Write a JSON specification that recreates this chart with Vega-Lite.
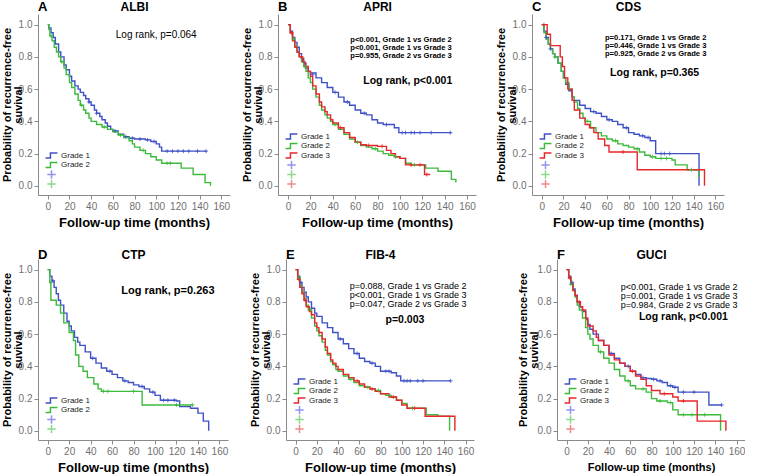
{
"$schema":"https://vega.github.io/schema/vega-lite/v6.json",
"padding":{"left":1,"top":0,"right":0,"bottom":0},
"config":{"font":"Liberation Sans","view":{"stroke":null},
"axis":{"grid":false,"domainColor":"#8a8a8a","tickColor":"#8a8a8a","labelColor":"#707070","labelFontSize":10,"titleColor":"#000","titleFontWeight":"bold","tickSize":4,"labelPadding":2,"labelOverlap":false,"labelFlush":false},
"axisX":{"titleFontSize":13,"titlePadding":5},
"axisY":{"titleFontSize":11,"titlePadding":-5,"titleLineHeight":11}},
"datasets":{
"km":[
{"p":"A","g":"Grade 1","t":0,"s":1},{"p":"A","g":"Grade 1","t":1,"s":0.98},{"p":"A","g":"Grade 1","t":3,"s":0.95},{"p":"A","g":"Grade 1","t":5,"s":0.92},{"p":"A","g":"Grade 1","t":7,"s":0.88},{"p":"A","g":"Grade 1","t":10,"s":0.83},{"p":"A","g":"Grade 1","t":12,"s":0.8},{"p":"A","g":"Grade 1","t":15,"s":0.75},{"p":"A","g":"Grade 1","t":17,"s":0.72},{"p":"A","g":"Grade 1","t":20,"s":0.68},{"p":"A","g":"Grade 1","t":22,"s":0.65},{"p":"A","g":"Grade 1","t":25,"s":0.62},{"p":"A","g":"Grade 1","t":28,"s":0.6},{"p":"A","g":"Grade 1","t":30,"s":0.58},{"p":"A","g":"Grade 1","t":33,"s":0.56},{"p":"A","g":"Grade 1","t":35,"s":0.54},{"p":"A","g":"Grade 1","t":38,"s":0.52},{"p":"A","g":"Grade 1","t":40,"s":0.5},{"p":"A","g":"Grade 1","t":43,"s":0.47},{"p":"A","g":"Grade 1","t":45,"s":0.45},{"p":"A","g":"Grade 1","t":48,"s":0.43},{"p":"A","g":"Grade 1","t":50,"s":0.41},{"p":"A","g":"Grade 1","t":53,"s":0.39},{"p":"A","g":"Grade 1","t":55,"s":0.37},{"p":"A","g":"Grade 1","t":58,"s":0.35},{"p":"A","g":"Grade 1","t":60,"s":0.34},{"p":"A","g":"Grade 1","t":65,"s":0.32},{"p":"A","g":"Grade 1","t":70,"s":0.305},{"p":"A","g":"Grade 1","t":75,"s":0.295},{"p":"A","g":"Grade 1","t":80,"s":0.29},{"p":"A","g":"Grade 1","t":90,"s":0.285},{"p":"A","g":"Grade 1","t":95,"s":0.275},{"p":"A","g":"Grade 1","t":100,"s":0.26},{"p":"A","g":"Grade 1","t":103,"s":0.24},{"p":"A","g":"Grade 1","t":105,"s":0.215},{"p":"A","g":"Grade 1","t":146,"s":0.215},
{"p":"A","g":"Grade 2","t":0,"s":1},{"p":"A","g":"Grade 2","t":1,"s":0.97},{"p":"A","g":"Grade 2","t":2,"s":0.93},{"p":"A","g":"Grade 2","t":4,"s":0.9},{"p":"A","g":"Grade 2","t":6,"s":0.86},{"p":"A","g":"Grade 2","t":8,"s":0.83},{"p":"A","g":"Grade 2","t":10,"s":0.8},{"p":"A","g":"Grade 2","t":12,"s":0.77},{"p":"A","g":"Grade 2","t":15,"s":0.73},{"p":"A","g":"Grade 2","t":17,"s":0.69},{"p":"A","g":"Grade 2","t":20,"s":0.64},{"p":"A","g":"Grade 2","t":22,"s":0.61},{"p":"A","g":"Grade 2","t":25,"s":0.57},{"p":"A","g":"Grade 2","t":28,"s":0.53},{"p":"A","g":"Grade 2","t":30,"s":0.5},{"p":"A","g":"Grade 2","t":33,"s":0.47},{"p":"A","g":"Grade 2","t":35,"s":0.45},{"p":"A","g":"Grade 2","t":38,"s":0.42},{"p":"A","g":"Grade 2","t":40,"s":0.4},{"p":"A","g":"Grade 2","t":45,"s":0.38},{"p":"A","g":"Grade 2","t":50,"s":0.365},{"p":"A","g":"Grade 2","t":55,"s":0.35},{"p":"A","g":"Grade 2","t":60,"s":0.335},{"p":"A","g":"Grade 2","t":65,"s":0.315},{"p":"A","g":"Grade 2","t":70,"s":0.3},{"p":"A","g":"Grade 2","t":75,"s":0.28},{"p":"A","g":"Grade 2","t":78,"s":0.26},{"p":"A","g":"Grade 2","t":80,"s":0.24},{"p":"A","g":"Grade 2","t":85,"s":0.22},{"p":"A","g":"Grade 2","t":90,"s":0.2},{"p":"A","g":"Grade 2","t":95,"s":0.18},{"p":"A","g":"Grade 2","t":100,"s":0.16},{"p":"A","g":"Grade 2","t":105,"s":0.14},{"p":"A","g":"Grade 2","t":123,"s":0.11},{"p":"A","g":"Grade 2","t":134,"s":0.07},{"p":"A","g":"Grade 2","t":145,"s":0.02},{"p":"A","g":"Grade 2","t":150,"s":0.0},
{"p":"B","g":"Grade 1","t":0,"s":1},{"p":"B","g":"Grade 1","t":2,"s":0.96},{"p":"B","g":"Grade 1","t":4,"s":0.92},{"p":"B","g":"Grade 1","t":6,"s":0.89},{"p":"B","g":"Grade 1","t":8,"s":0.86},{"p":"B","g":"Grade 1","t":10,"s":0.82},{"p":"B","g":"Grade 1","t":12,"s":0.79},{"p":"B","g":"Grade 1","t":14,"s":0.76},{"p":"B","g":"Grade 1","t":16,"s":0.73},{"p":"B","g":"Grade 1","t":18,"s":0.71},{"p":"B","g":"Grade 1","t":20,"s":0.7},{"p":"B","g":"Grade 1","t":25,"s":0.67},{"p":"B","g":"Grade 1","t":30,"s":0.64},{"p":"B","g":"Grade 1","t":35,"s":0.61},{"p":"B","g":"Grade 1","t":40,"s":0.58},{"p":"B","g":"Grade 1","t":45,"s":0.55},{"p":"B","g":"Grade 1","t":50,"s":0.52},{"p":"B","g":"Grade 1","t":55,"s":0.5},{"p":"B","g":"Grade 1","t":60,"s":0.47},{"p":"B","g":"Grade 1","t":65,"s":0.45},{"p":"B","g":"Grade 1","t":70,"s":0.44},{"p":"B","g":"Grade 1","t":75,"s":0.41},{"p":"B","g":"Grade 1","t":80,"s":0.39},{"p":"B","g":"Grade 1","t":85,"s":0.38},{"p":"B","g":"Grade 1","t":95,"s":0.36},{"p":"B","g":"Grade 1","t":99,"s":0.33},{"p":"B","g":"Grade 1","t":146,"s":0.33},
{"p":"B","g":"Grade 2","t":0,"s":1},{"p":"B","g":"Grade 2","t":2,"s":0.95},{"p":"B","g":"Grade 2","t":4,"s":0.91},{"p":"B","g":"Grade 2","t":6,"s":0.87},{"p":"B","g":"Grade 2","t":8,"s":0.83},{"p":"B","g":"Grade 2","t":10,"s":0.8},{"p":"B","g":"Grade 2","t":12,"s":0.77},{"p":"B","g":"Grade 2","t":14,"s":0.74},{"p":"B","g":"Grade 2","t":16,"s":0.71},{"p":"B","g":"Grade 2","t":18,"s":0.67},{"p":"B","g":"Grade 2","t":20,"s":0.64},{"p":"B","g":"Grade 2","t":22,"s":0.6},{"p":"B","g":"Grade 2","t":25,"s":0.55},{"p":"B","g":"Grade 2","t":28,"s":0.5},{"p":"B","g":"Grade 2","t":30,"s":0.47},{"p":"B","g":"Grade 2","t":33,"s":0.44},{"p":"B","g":"Grade 2","t":35,"s":0.42},{"p":"B","g":"Grade 2","t":38,"s":0.4},{"p":"B","g":"Grade 2","t":40,"s":0.38},{"p":"B","g":"Grade 2","t":45,"s":0.35},{"p":"B","g":"Grade 2","t":50,"s":0.32},{"p":"B","g":"Grade 2","t":55,"s":0.29},{"p":"B","g":"Grade 2","t":60,"s":0.27},{"p":"B","g":"Grade 2","t":65,"s":0.25},{"p":"B","g":"Grade 2","t":70,"s":0.24},{"p":"B","g":"Grade 2","t":75,"s":0.23},{"p":"B","g":"Grade 2","t":80,"s":0.215},{"p":"B","g":"Grade 2","t":85,"s":0.2},{"p":"B","g":"Grade 2","t":90,"s":0.19},{"p":"B","g":"Grade 2","t":95,"s":0.18},{"p":"B","g":"Grade 2","t":100,"s":0.17},{"p":"B","g":"Grade 2","t":105,"s":0.14},{"p":"B","g":"Grade 2","t":110,"s":0.13},{"p":"B","g":"Grade 2","t":123,"s":0.11},{"p":"B","g":"Grade 2","t":134,"s":0.09},{"p":"B","g":"Grade 2","t":146,"s":0.04},{"p":"B","g":"Grade 2","t":150,"s":0.02},
{"p":"B","g":"Grade 3","t":0,"s":1},{"p":"B","g":"Grade 3","t":2,"s":0.95},{"p":"B","g":"Grade 3","t":4,"s":0.9},{"p":"B","g":"Grade 3","t":6,"s":0.86},{"p":"B","g":"Grade 3","t":8,"s":0.83},{"p":"B","g":"Grade 3","t":10,"s":0.8},{"p":"B","g":"Grade 3","t":13,"s":0.77},{"p":"B","g":"Grade 3","t":15,"s":0.74},{"p":"B","g":"Grade 3","t":18,"s":0.71},{"p":"B","g":"Grade 3","t":20,"s":0.68},{"p":"B","g":"Grade 3","t":22,"s":0.62},{"p":"B","g":"Grade 3","t":25,"s":0.57},{"p":"B","g":"Grade 3","t":28,"s":0.52},{"p":"B","g":"Grade 3","t":30,"s":0.49},{"p":"B","g":"Grade 3","t":33,"s":0.46},{"p":"B","g":"Grade 3","t":35,"s":0.44},{"p":"B","g":"Grade 3","t":38,"s":0.41},{"p":"B","g":"Grade 3","t":40,"s":0.39},{"p":"B","g":"Grade 3","t":45,"s":0.36},{"p":"B","g":"Grade 3","t":50,"s":0.33},{"p":"B","g":"Grade 3","t":55,"s":0.3},{"p":"B","g":"Grade 3","t":60,"s":0.27},{"p":"B","g":"Grade 3","t":65,"s":0.255},{"p":"B","g":"Grade 3","t":70,"s":0.25},{"p":"B","g":"Grade 3","t":80,"s":0.245},{"p":"B","g":"Grade 3","t":88,"s":0.22},{"p":"B","g":"Grade 3","t":92,"s":0.2},{"p":"B","g":"Grade 3","t":96,"s":0.18},{"p":"B","g":"Grade 3","t":100,"s":0.17},{"p":"B","g":"Grade 3","t":105,"s":0.13},{"p":"B","g":"Grade 3","t":120,"s":0.13},{"p":"B","g":"Grade 3","t":122,"s":0.07},{"p":"B","g":"Grade 3","t":127,"s":0.07},
{"p":"C","g":"Grade 1","t":0,"s":1},{"p":"C","g":"Grade 1","t":2,"s":0.96},{"p":"C","g":"Grade 1","t":4,"s":0.92},{"p":"C","g":"Grade 1","t":6,"s":0.88},{"p":"C","g":"Grade 1","t":8,"s":0.85},{"p":"C","g":"Grade 1","t":10,"s":0.82},{"p":"C","g":"Grade 1","t":12,"s":0.8},{"p":"C","g":"Grade 1","t":15,"s":0.76},{"p":"C","g":"Grade 1","t":18,"s":0.71},{"p":"C","g":"Grade 1","t":20,"s":0.67},{"p":"C","g":"Grade 1","t":22,"s":0.63},{"p":"C","g":"Grade 1","t":25,"s":0.59},{"p":"C","g":"Grade 1","t":28,"s":0.55},{"p":"C","g":"Grade 1","t":30,"s":0.53},{"p":"C","g":"Grade 1","t":35,"s":0.5},{"p":"C","g":"Grade 1","t":40,"s":0.48},{"p":"C","g":"Grade 1","t":45,"s":0.46},{"p":"C","g":"Grade 1","t":50,"s":0.45},{"p":"C","g":"Grade 1","t":55,"s":0.43},{"p":"C","g":"Grade 1","t":60,"s":0.41},{"p":"C","g":"Grade 1","t":65,"s":0.4},{"p":"C","g":"Grade 1","t":70,"s":0.38},{"p":"C","g":"Grade 1","t":75,"s":0.36},{"p":"C","g":"Grade 1","t":80,"s":0.33},{"p":"C","g":"Grade 1","t":85,"s":0.32},{"p":"C","g":"Grade 1","t":90,"s":0.31},{"p":"C","g":"Grade 1","t":95,"s":0.3},{"p":"C","g":"Grade 1","t":100,"s":0.28},{"p":"C","g":"Grade 1","t":105,"s":0.2},{"p":"C","g":"Grade 1","t":145,"s":0.0},
{"p":"C","g":"Grade 2","t":0,"s":1},{"p":"C","g":"Grade 2","t":2,"s":0.95},{"p":"C","g":"Grade 2","t":4,"s":0.91},{"p":"C","g":"Grade 2","t":6,"s":0.88},{"p":"C","g":"Grade 2","t":8,"s":0.85},{"p":"C","g":"Grade 2","t":10,"s":0.82},{"p":"C","g":"Grade 2","t":12,"s":0.8},{"p":"C","g":"Grade 2","t":15,"s":0.76},{"p":"C","g":"Grade 2","t":18,"s":0.71},{"p":"C","g":"Grade 2","t":20,"s":0.67},{"p":"C","g":"Grade 2","t":22,"s":0.64},{"p":"C","g":"Grade 2","t":25,"s":0.6},{"p":"C","g":"Grade 2","t":28,"s":0.55},{"p":"C","g":"Grade 2","t":30,"s":0.52},{"p":"C","g":"Grade 2","t":33,"s":0.48},{"p":"C","g":"Grade 2","t":35,"s":0.45},{"p":"C","g":"Grade 2","t":38,"s":0.42},{"p":"C","g":"Grade 2","t":40,"s":0.4},{"p":"C","g":"Grade 2","t":45,"s":0.36},{"p":"C","g":"Grade 2","t":50,"s":0.33},{"p":"C","g":"Grade 2","t":55,"s":0.31},{"p":"C","g":"Grade 2","t":60,"s":0.29},{"p":"C","g":"Grade 2","t":65,"s":0.28},{"p":"C","g":"Grade 2","t":70,"s":0.26},{"p":"C","g":"Grade 2","t":75,"s":0.25},{"p":"C","g":"Grade 2","t":80,"s":0.24},{"p":"C","g":"Grade 2","t":85,"s":0.23},{"p":"C","g":"Grade 2","t":90,"s":0.21},{"p":"C","g":"Grade 2","t":95,"s":0.19},{"p":"C","g":"Grade 2","t":100,"s":0.18},{"p":"C","g":"Grade 2","t":105,"s":0.17},{"p":"C","g":"Grade 2","t":120,"s":0.16},{"p":"C","g":"Grade 2","t":123,"s":0.13},{"p":"C","g":"Grade 2","t":134,"s":0.1},{"p":"C","g":"Grade 2","t":145,"s":0.05},
{"p":"C","g":"Grade 3","t":0,"s":1},{"p":"C","g":"Grade 3","t":5,"s":0.94},{"p":"C","g":"Grade 3","t":8,"s":0.87},{"p":"C","g":"Grade 3","t":17,"s":0.8},{"p":"C","g":"Grade 3","t":19,"s":0.74},{"p":"C","g":"Grade 3","t":21,"s":0.67},{"p":"C","g":"Grade 3","t":24,"s":0.6},{"p":"C","g":"Grade 3","t":28,"s":0.53},{"p":"C","g":"Grade 3","t":30,"s":0.47},{"p":"C","g":"Grade 3","t":35,"s":0.42},{"p":"C","g":"Grade 3","t":40,"s":0.38},{"p":"C","g":"Grade 3","t":44,"s":0.36},{"p":"C","g":"Grade 3","t":48,"s":0.33},{"p":"C","g":"Grade 3","t":52,"s":0.29},{"p":"C","g":"Grade 3","t":58,"s":0.25},{"p":"C","g":"Grade 3","t":62,"s":0.21},{"p":"C","g":"Grade 3","t":88,"s":0.1},{"p":"C","g":"Grade 3","t":150,"s":0.0},
{"p":"D","g":"Grade 1","t":0,"s":1},{"p":"D","g":"Grade 1","t":2,"s":0.96},{"p":"D","g":"Grade 1","t":4,"s":0.93},{"p":"D","g":"Grade 1","t":6,"s":0.89},{"p":"D","g":"Grade 1","t":8,"s":0.85},{"p":"D","g":"Grade 1","t":10,"s":0.81},{"p":"D","g":"Grade 1","t":12,"s":0.78},{"p":"D","g":"Grade 1","t":15,"s":0.73},{"p":"D","g":"Grade 1","t":18,"s":0.68},{"p":"D","g":"Grade 1","t":20,"s":0.65},{"p":"D","g":"Grade 1","t":22,"s":0.62},{"p":"D","g":"Grade 1","t":25,"s":0.58},{"p":"D","g":"Grade 1","t":28,"s":0.55},{"p":"D","g":"Grade 1","t":30,"s":0.53},{"p":"D","g":"Grade 1","t":35,"s":0.49},{"p":"D","g":"Grade 1","t":40,"s":0.45},{"p":"D","g":"Grade 1","t":45,"s":0.42},{"p":"D","g":"Grade 1","t":50,"s":0.39},{"p":"D","g":"Grade 1","t":55,"s":0.37},{"p":"D","g":"Grade 1","t":60,"s":0.35},{"p":"D","g":"Grade 1","t":65,"s":0.33},{"p":"D","g":"Grade 1","t":70,"s":0.31},{"p":"D","g":"Grade 1","t":75,"s":0.3},{"p":"D","g":"Grade 1","t":80,"s":0.285},{"p":"D","g":"Grade 1","t":85,"s":0.275},{"p":"D","g":"Grade 1","t":90,"s":0.26},{"p":"D","g":"Grade 1","t":95,"s":0.24},{"p":"D","g":"Grade 1","t":100,"s":0.22},{"p":"D","g":"Grade 1","t":105,"s":0.19},{"p":"D","g":"Grade 1","t":120,"s":0.185},{"p":"D","g":"Grade 1","t":123,"s":0.15},{"p":"D","g":"Grade 1","t":133,"s":0.14},{"p":"D","g":"Grade 1","t":140,"s":0.11},{"p":"D","g":"Grade 1","t":145,"s":0.06},{"p":"D","g":"Grade 1","t":150,"s":0.0},
{"p":"D","g":"Grade 2","t":0,"s":1},{"p":"D","g":"Grade 2","t":2,"s":0.92},{"p":"D","g":"Grade 2","t":3,"s":0.81},{"p":"D","g":"Grade 2","t":8,"s":0.78},{"p":"D","g":"Grade 2","t":12,"s":0.73},{"p":"D","g":"Grade 2","t":15,"s":0.67},{"p":"D","g":"Grade 2","t":20,"s":0.61},{"p":"D","g":"Grade 2","t":24,"s":0.56},{"p":"D","g":"Grade 2","t":26,"s":0.47},{"p":"D","g":"Grade 2","t":29,"s":0.4},{"p":"D","g":"Grade 2","t":33,"s":0.37},{"p":"D","g":"Grade 2","t":37,"s":0.33},{"p":"D","g":"Grade 2","t":43,"s":0.29},{"p":"D","g":"Grade 2","t":47,"s":0.26},{"p":"D","g":"Grade 2","t":50,"s":0.245},{"p":"D","g":"Grade 2","t":88,"s":0.16},{"p":"D","g":"Grade 2","t":135,"s":0.16},
{"p":"E","g":"Grade 1","t":0,"s":1},{"p":"E","g":"Grade 1","t":2,"s":0.96},{"p":"E","g":"Grade 1","t":4,"s":0.92},{"p":"E","g":"Grade 1","t":6,"s":0.89},{"p":"E","g":"Grade 1","t":8,"s":0.86},{"p":"E","g":"Grade 1","t":10,"s":0.83},{"p":"E","g":"Grade 1","t":12,"s":0.8},{"p":"E","g":"Grade 1","t":15,"s":0.76},{"p":"E","g":"Grade 1","t":18,"s":0.73},{"p":"E","g":"Grade 1","t":20,"s":0.71},{"p":"E","g":"Grade 1","t":25,"s":0.67},{"p":"E","g":"Grade 1","t":30,"s":0.64},{"p":"E","g":"Grade 1","t":35,"s":0.61},{"p":"E","g":"Grade 1","t":40,"s":0.57},{"p":"E","g":"Grade 1","t":45,"s":0.54},{"p":"E","g":"Grade 1","t":50,"s":0.51},{"p":"E","g":"Grade 1","t":55,"s":0.48},{"p":"E","g":"Grade 1","t":60,"s":0.45},{"p":"E","g":"Grade 1","t":65,"s":0.43},{"p":"E","g":"Grade 1","t":70,"s":0.42},{"p":"E","g":"Grade 1","t":75,"s":0.4},{"p":"E","g":"Grade 1","t":80,"s":0.37},{"p":"E","g":"Grade 1","t":90,"s":0.36},{"p":"E","g":"Grade 1","t":95,"s":0.34},{"p":"E","g":"Grade 1","t":99,"s":0.31},{"p":"E","g":"Grade 1","t":146,"s":0.31},
{"p":"E","g":"Grade 2","t":0,"s":1},{"p":"E","g":"Grade 2","t":2,"s":0.95},{"p":"E","g":"Grade 2","t":4,"s":0.9},{"p":"E","g":"Grade 2","t":6,"s":0.86},{"p":"E","g":"Grade 2","t":8,"s":0.82},{"p":"E","g":"Grade 2","t":10,"s":0.78},{"p":"E","g":"Grade 2","t":12,"s":0.75},{"p":"E","g":"Grade 2","t":15,"s":0.7},{"p":"E","g":"Grade 2","t":18,"s":0.65},{"p":"E","g":"Grade 2","t":20,"s":0.62},{"p":"E","g":"Grade 2","t":22,"s":0.59},{"p":"E","g":"Grade 2","t":25,"s":0.55},{"p":"E","g":"Grade 2","t":28,"s":0.5},{"p":"E","g":"Grade 2","t":30,"s":0.47},{"p":"E","g":"Grade 2","t":33,"s":0.43},{"p":"E","g":"Grade 2","t":35,"s":0.41},{"p":"E","g":"Grade 2","t":38,"s":0.38},{"p":"E","g":"Grade 2","t":40,"s":0.37},{"p":"E","g":"Grade 2","t":45,"s":0.34},{"p":"E","g":"Grade 2","t":50,"s":0.32},{"p":"E","g":"Grade 2","t":55,"s":0.3},{"p":"E","g":"Grade 2","t":60,"s":0.28},{"p":"E","g":"Grade 2","t":65,"s":0.27},{"p":"E","g":"Grade 2","t":70,"s":0.26},{"p":"E","g":"Grade 2","t":75,"s":0.25},{"p":"E","g":"Grade 2","t":80,"s":0.23},{"p":"E","g":"Grade 2","t":85,"s":0.22},{"p":"E","g":"Grade 2","t":90,"s":0.21},{"p":"E","g":"Grade 2","t":95,"s":0.19},{"p":"E","g":"Grade 2","t":100,"s":0.17},{"p":"E","g":"Grade 2","t":105,"s":0.14},{"p":"E","g":"Grade 2","t":123,"s":0.1},{"p":"E","g":"Grade 2","t":134,"s":0.09},{"p":"E","g":"Grade 2","t":145,"s":0.0},
{"p":"E","g":"Grade 3","t":0,"s":1},{"p":"E","g":"Grade 3","t":2,"s":0.94},{"p":"E","g":"Grade 3","t":4,"s":0.89},{"p":"E","g":"Grade 3","t":6,"s":0.85},{"p":"E","g":"Grade 3","t":8,"s":0.81},{"p":"E","g":"Grade 3","t":10,"s":0.77},{"p":"E","g":"Grade 3","t":13,"s":0.74},{"p":"E","g":"Grade 3","t":15,"s":0.72},{"p":"E","g":"Grade 3","t":18,"s":0.67},{"p":"E","g":"Grade 3","t":20,"s":0.64},{"p":"E","g":"Grade 3","t":22,"s":0.61},{"p":"E","g":"Grade 3","t":25,"s":0.57},{"p":"E","g":"Grade 3","t":28,"s":0.52},{"p":"E","g":"Grade 3","t":30,"s":0.48},{"p":"E","g":"Grade 3","t":33,"s":0.44},{"p":"E","g":"Grade 3","t":35,"s":0.42},{"p":"E","g":"Grade 3","t":38,"s":0.4},{"p":"E","g":"Grade 3","t":40,"s":0.38},{"p":"E","g":"Grade 3","t":45,"s":0.35},{"p":"E","g":"Grade 3","t":50,"s":0.33},{"p":"E","g":"Grade 3","t":55,"s":0.31},{"p":"E","g":"Grade 3","t":60,"s":0.29},{"p":"E","g":"Grade 3","t":65,"s":0.27},{"p":"E","g":"Grade 3","t":70,"s":0.26},{"p":"E","g":"Grade 3","t":75,"s":0.245},{"p":"E","g":"Grade 3","t":80,"s":0.23},{"p":"E","g":"Grade 3","t":88,"s":0.21},{"p":"E","g":"Grade 3","t":95,"s":0.19},{"p":"E","g":"Grade 3","t":100,"s":0.16},{"p":"E","g":"Grade 3","t":105,"s":0.14},{"p":"E","g":"Grade 3","t":122,"s":0.09},{"p":"E","g":"Grade 3","t":150,"s":0.0},
{"p":"F","g":"Grade 1","t":0,"s":1},{"p":"F","g":"Grade 1","t":2,"s":0.96},{"p":"F","g":"Grade 1","t":4,"s":0.92},{"p":"F","g":"Grade 1","t":6,"s":0.88},{"p":"F","g":"Grade 1","t":8,"s":0.84},{"p":"F","g":"Grade 1","t":10,"s":0.8},{"p":"F","g":"Grade 1","t":12,"s":0.77},{"p":"F","g":"Grade 1","t":15,"s":0.74},{"p":"F","g":"Grade 1","t":18,"s":0.69},{"p":"F","g":"Grade 1","t":20,"s":0.66},{"p":"F","g":"Grade 1","t":22,"s":0.63},{"p":"F","g":"Grade 1","t":25,"s":0.6},{"p":"F","g":"Grade 1","t":30,"s":0.56},{"p":"F","g":"Grade 1","t":35,"s":0.53},{"p":"F","g":"Grade 1","t":40,"s":0.48},{"p":"F","g":"Grade 1","t":45,"s":0.45},{"p":"F","g":"Grade 1","t":50,"s":0.42},{"p":"F","g":"Grade 1","t":55,"s":0.4},{"p":"F","g":"Grade 1","t":60,"s":0.37},{"p":"F","g":"Grade 1","t":65,"s":0.35},{"p":"F","g":"Grade 1","t":70,"s":0.33},{"p":"F","g":"Grade 1","t":75,"s":0.325},{"p":"F","g":"Grade 1","t":80,"s":0.32},{"p":"F","g":"Grade 1","t":85,"s":0.31},{"p":"F","g":"Grade 1","t":90,"s":0.3},{"p":"F","g":"Grade 1","t":95,"s":0.28},{"p":"F","g":"Grade 1","t":100,"s":0.27},{"p":"F","g":"Grade 1","t":105,"s":0.24},{"p":"F","g":"Grade 1","t":134,"s":0.16},{"p":"F","g":"Grade 1","t":146,"s":0.16},
{"p":"F","g":"Grade 2","t":0,"s":1},{"p":"F","g":"Grade 2","t":2,"s":0.95},{"p":"F","g":"Grade 2","t":4,"s":0.91},{"p":"F","g":"Grade 2","t":6,"s":0.87},{"p":"F","g":"Grade 2","t":8,"s":0.83},{"p":"F","g":"Grade 2","t":10,"s":0.78},{"p":"F","g":"Grade 2","t":12,"s":0.75},{"p":"F","g":"Grade 2","t":15,"s":0.7},{"p":"F","g":"Grade 2","t":18,"s":0.64},{"p":"F","g":"Grade 2","t":20,"s":0.6},{"p":"F","g":"Grade 2","t":22,"s":0.57},{"p":"F","g":"Grade 2","t":25,"s":0.53},{"p":"F","g":"Grade 2","t":30,"s":0.49},{"p":"F","g":"Grade 2","t":35,"s":0.45},{"p":"F","g":"Grade 2","t":40,"s":0.42},{"p":"F","g":"Grade 2","t":45,"s":0.38},{"p":"F","g":"Grade 2","t":50,"s":0.34},{"p":"F","g":"Grade 2","t":55,"s":0.31},{"p":"F","g":"Grade 2","t":60,"s":0.28},{"p":"F","g":"Grade 2","t":65,"s":0.26},{"p":"F","g":"Grade 2","t":75,"s":0.24},{"p":"F","g":"Grade 2","t":80,"s":0.2},{"p":"F","g":"Grade 2","t":85,"s":0.185},{"p":"F","g":"Grade 2","t":95,"s":0.175},{"p":"F","g":"Grade 2","t":100,"s":0.13},{"p":"F","g":"Grade 2","t":105,"s":0.1},{"p":"F","g":"Grade 2","t":145,"s":0.0},
{"p":"F","g":"Grade 3","t":0,"s":1},{"p":"F","g":"Grade 3","t":2,"s":0.95},{"p":"F","g":"Grade 3","t":4,"s":0.91},{"p":"F","g":"Grade 3","t":6,"s":0.87},{"p":"F","g":"Grade 3","t":8,"s":0.84},{"p":"F","g":"Grade 3","t":10,"s":0.8},{"p":"F","g":"Grade 3","t":13,"s":0.77},{"p":"F","g":"Grade 3","t":15,"s":0.75},{"p":"F","g":"Grade 3","t":18,"s":0.7},{"p":"F","g":"Grade 3","t":20,"s":0.65},{"p":"F","g":"Grade 3","t":25,"s":0.62},{"p":"F","g":"Grade 3","t":28,"s":0.58},{"p":"F","g":"Grade 3","t":30,"s":0.56},{"p":"F","g":"Grade 3","t":35,"s":0.53},{"p":"F","g":"Grade 3","t":40,"s":0.47},{"p":"F","g":"Grade 3","t":45,"s":0.44},{"p":"F","g":"Grade 3","t":50,"s":0.42},{"p":"F","g":"Grade 3","t":55,"s":0.4},{"p":"F","g":"Grade 3","t":60,"s":0.37},{"p":"F","g":"Grade 3","t":65,"s":0.34},{"p":"F","g":"Grade 3","t":70,"s":0.32},{"p":"F","g":"Grade 3","t":75,"s":0.28},{"p":"F","g":"Grade 3","t":80,"s":0.25},{"p":"F","g":"Grade 3","t":88,"s":0.23},{"p":"F","g":"Grade 3","t":100,"s":0.21},{"p":"F","g":"Grade 3","t":105,"s":0.185},{"p":"F","g":"Grade 3","t":123,"s":0.06},{"p":"F","g":"Grade 3","t":150,"s":0.0}
],
"cens":[
{"p":"A","g":"Grade 1","t":38,"s":0.52},{"p":"A","g":"Grade 1","t":45,"s":0.45},{"p":"A","g":"Grade 1","t":62,"s":0.34},{"p":"A","g":"Grade 1","t":72,"s":0.305},{"p":"A","g":"Grade 1","t":78,"s":0.295},{"p":"A","g":"Grade 1","t":85,"s":0.29},{"p":"A","g":"Grade 1","t":92,"s":0.285},{"p":"A","g":"Grade 1","t":98,"s":0.275},{"p":"A","g":"Grade 1","t":110,"s":0.215},{"p":"A","g":"Grade 1","t":115,"s":0.215},{"p":"A","g":"Grade 1","t":120,"s":0.215},{"p":"A","g":"Grade 1","t":125,"s":0.215},{"p":"A","g":"Grade 1","t":130,"s":0.215},{"p":"A","g":"Grade 1","t":138,"s":0.215},{"p":"A","g":"Grade 1","t":146,"s":0.215},
{"p":"A","g":"Grade 2","t":3,"s":0.93},{"p":"A","g":"Grade 2","t":13,"s":0.77},{"p":"A","g":"Grade 2","t":31,"s":0.5},{"p":"A","g":"Grade 2","t":52,"s":0.365},{"p":"A","g":"Grade 2","t":67,"s":0.315},{"p":"A","g":"Grade 2","t":88,"s":0.22},{"p":"A","g":"Grade 2","t":110,"s":0.14},{"p":"A","g":"Grade 2","t":113,"s":0.14},
{"p":"B","g":"Grade 1","t":22,"s":0.69},{"p":"B","g":"Grade 1","t":42,"s":0.58},{"p":"B","g":"Grade 1","t":53,"s":0.52},{"p":"B","g":"Grade 1","t":68,"s":0.45},{"p":"B","g":"Grade 1","t":88,"s":0.38},{"p":"B","g":"Grade 1","t":102,"s":0.33},{"p":"B","g":"Grade 1","t":105,"s":0.33},{"p":"B","g":"Grade 1","t":110,"s":0.33},{"p":"B","g":"Grade 1","t":113,"s":0.33},{"p":"B","g":"Grade 1","t":118,"s":0.33},{"p":"B","g":"Grade 1","t":128,"s":0.33},{"p":"B","g":"Grade 1","t":145,"s":0.33},
{"p":"B","g":"Grade 2","t":5,"s":0.91},{"p":"B","g":"Grade 2","t":15,"s":0.74},{"p":"B","g":"Grade 2","t":42,"s":0.38},{"p":"B","g":"Grade 2","t":62,"s":0.27},{"p":"B","g":"Grade 2","t":78,"s":0.23},{"p":"B","g":"Grade 2","t":96,"s":0.18},{"p":"B","g":"Grade 2","t":113,"s":0.13},
{"p":"B","g":"Grade 3","t":3,"s":0.95},{"p":"B","g":"Grade 3","t":12,"s":0.8},{"p":"B","g":"Grade 3","t":47,"s":0.36},{"p":"B","g":"Grade 3","t":72,"s":0.25},{"p":"B","g":"Grade 3","t":84,"s":0.245},{"p":"B","g":"Grade 3","t":110,"s":0.13},{"p":"B","g":"Grade 3","t":118,"s":0.13},{"p":"B","g":"Grade 3","t":124,"s":0.07},
{"p":"C","g":"Grade 1","t":4,"s":0.92},{"p":"C","g":"Grade 1","t":8,"s":0.85},{"p":"C","g":"Grade 1","t":48,"s":0.46},{"p":"C","g":"Grade 1","t":62,"s":0.41},{"p":"C","g":"Grade 1","t":78,"s":0.36},{"p":"C","g":"Grade 1","t":93,"s":0.31},{"p":"C","g":"Grade 1","t":98,"s":0.3},{"p":"C","g":"Grade 1","t":110,"s":0.2},{"p":"C","g":"Grade 1","t":113,"s":0.2},{"p":"C","g":"Grade 1","t":118,"s":0.2},
{"p":"C","g":"Grade 2","t":12,"s":0.8},{"p":"C","g":"Grade 2","t":42,"s":0.4},{"p":"C","g":"Grade 2","t":68,"s":0.28},{"p":"C","g":"Grade 2","t":88,"s":0.23},{"p":"C","g":"Grade 2","t":102,"s":0.18},{"p":"C","g":"Grade 2","t":110,"s":0.17},{"p":"C","g":"Grade 2","t":115,"s":0.17},{"p":"C","g":"Grade 2","t":138,"s":0.1},
{"p":"C","g":"Grade 3","t":2,"s":1},{"p":"C","g":"Grade 3","t":75,"s":0.21},
{"p":"D","g":"Grade 1","t":5,"s":0.93},{"p":"D","g":"Grade 1","t":42,"s":0.45},{"p":"D","g":"Grade 1","t":58,"s":0.37},{"p":"D","g":"Grade 1","t":72,"s":0.31},{"p":"D","g":"Grade 1","t":88,"s":0.275},{"p":"D","g":"Grade 1","t":98,"s":0.24},{"p":"D","g":"Grade 1","t":108,"s":0.19},{"p":"D","g":"Grade 1","t":112,"s":0.19},{"p":"D","g":"Grade 1","t":118,"s":0.19},
{"p":"D","g":"Grade 2","t":3,"s":0.92},{"p":"D","g":"Grade 2","t":52,"s":0.245},{"p":"D","g":"Grade 2","t":56,"s":0.245},{"p":"D","g":"Grade 2","t":80,"s":0.245},{"p":"D","g":"Grade 2","t":120,"s":0.16},{"p":"D","g":"Grade 2","t":135,"s":0.16},
{"p":"E","g":"Grade 1","t":5,"s":0.92},{"p":"E","g":"Grade 1","t":42,"s":0.57},{"p":"E","g":"Grade 1","t":58,"s":0.48},{"p":"E","g":"Grade 1","t":72,"s":0.42},{"p":"E","g":"Grade 1","t":85,"s":0.37},{"p":"E","g":"Grade 1","t":88,"s":0.37},{"p":"E","g":"Grade 1","t":102,"s":0.31},{"p":"E","g":"Grade 1","t":105,"s":0.31},{"p":"E","g":"Grade 1","t":108,"s":0.31},{"p":"E","g":"Grade 1","t":115,"s":0.31},{"p":"E","g":"Grade 1","t":120,"s":0.31},{"p":"E","g":"Grade 1","t":146,"s":0.31},
{"p":"E","g":"Grade 2","t":3,"s":0.95},{"p":"E","g":"Grade 2","t":14,"s":0.75},{"p":"E","g":"Grade 2","t":52,"s":0.32},{"p":"E","g":"Grade 2","t":68,"s":0.27},{"p":"E","g":"Grade 2","t":78,"s":0.25},{"p":"E","g":"Grade 2","t":88,"s":0.22},{"p":"E","g":"Grade 2","t":110,"s":0.14},
{"p":"E","g":"Grade 3","t":3,"s":0.94},{"p":"E","g":"Grade 3","t":9,"s":0.81},{"p":"E","g":"Grade 3","t":58,"s":0.31},{"p":"E","g":"Grade 3","t":72,"s":0.26},{"p":"E","g":"Grade 3","t":92,"s":0.21},{"p":"E","g":"Grade 3","t":112,"s":0.14},
{"p":"F","g":"Grade 1","t":5,"s":0.92},{"p":"F","g":"Grade 1","t":42,"s":0.48},{"p":"F","g":"Grade 1","t":58,"s":0.4},{"p":"F","g":"Grade 1","t":72,"s":0.33},{"p":"F","g":"Grade 1","t":82,"s":0.32},{"p":"F","g":"Grade 1","t":88,"s":0.31},{"p":"F","g":"Grade 1","t":98,"s":0.28},{"p":"F","g":"Grade 1","t":102,"s":0.27},{"p":"F","g":"Grade 1","t":110,"s":0.24},{"p":"F","g":"Grade 1","t":120,"s":0.24},{"p":"F","g":"Grade 1","t":146,"s":0.16},
{"p":"F","g":"Grade 2","t":4,"s":0.91},{"p":"F","g":"Grade 2","t":32,"s":0.49},{"p":"F","g":"Grade 2","t":58,"s":0.31},{"p":"F","g":"Grade 2","t":72,"s":0.26},{"p":"F","g":"Grade 2","t":88,"s":0.185},{"p":"F","g":"Grade 2","t":98,"s":0.175},{"p":"F","g":"Grade 2","t":110,"s":0.1},{"p":"F","g":"Grade 2","t":118,"s":0.1},{"p":"F","g":"Grade 2","t":130,"s":0.1},
{"p":"F","g":"Grade 3","t":3,"s":0.95},{"p":"F","g":"Grade 3","t":12,"s":0.8},{"p":"F","g":"Grade 3","t":62,"s":0.37},{"p":"F","g":"Grade 3","t":92,"s":0.23},{"p":"F","g":"Grade 3","t":110,"s":0.185}
]},
"resolve":{"scale":{"color":"independent","x":"independent","y":"independent"},"legend":{"color":"independent"}},
"spacing":20,
"vconcat":[
{"hconcat":[
{"hconcat":[
{"width":192,"height":181,"layer":[
{"data":{"name":"km"},"transform":[{"filter":"datum.p==='A'"}],"mark":{"type":"line","interpolate":"step-after","strokeWidth":1.4},
"encoding":{"x":{"field":"t","type":"quantitative","scale":{"domain":[-9,168],"nice":false,"zero":false},"axis":{"values":[0,20,40,60,80,100,120,140,160],"labelOverlap":false,"title":"Follow-up time (months)"}},
"y":{"field":"s","type":"quantitative","scale":{"domain":[-0.057,1.066],"nice":false,"zero":false},"axis":{"values":[0,0.2,0.4,0.6,0.8,1],"labelOverlap":false,"format":".1f","title":["Probability of recurrence-free","suvival"]}},
"color":{"field":"g","type":"nominal","scale":{"domain":["Grade 1","Grade 2","c1","c2"],"range":["#3f51c6","#3cba3c","#8f95ee","#8ed88e"]},
"legend":{"title":null,"orient":"bottom-left","offset":6,"padding":0,"rowPadding":0.5,"clipHeight":9,"labelFontSize":8,"labelColor":"#222","labelOffset":5,"symbolOffset":3,"symbolSize":49,"symbolStrokeWidth":1.5,"labelExpr":"indexof(datum.label,'Grade')>=0 ? datum.label : ''","encode":{"symbols":{"update":{"shape":{"signal":"indexof(datum.value,'Grade')>=0 ? 'M-1.7,0.7H-0.3V-0.7H1.7' : 'M-1.2,0H1.2M0,-1.2V1.2'"},"fill":{"value":"transparent"}}}}}}}},
{"data":{"name":"cens"},"transform":[{"filter":"datum.p==='A'"}],"mark":{"type":"point","shape":"M-1,0H1M0,-1V1","size":16,"strokeWidth":0.8,"filled":false,"opacity":1},
"encoding":{"x":{"field":"t","type":"quantitative","axis":{"values":[0,20,40,60,80,100,120,140,160],"labelOverlap":false,"title":"Follow-up time (months)"}},"y":{"field":"s","type":"quantitative","axis":{"values":[0,0.2,0.4,0.6,0.8,1],"labelOverlap":false,"format":".1f","title":["Probability of recurrence-free","suvival"]}},"color":{"field":"g","type":"nominal","legend":null}}},
{"data":{"values":[{}]},"mark":{"type":"text","align":"left","baseline":"middle","fontWeight":"bold","fontSize":13},"encoding":{"x":{"datum":-9,"axis":{"values":[0,20,40,60,80,100,120,140,160],"labelOverlap":false,"title":"Follow-up time (months)"}},"y":{"datum":1.11,"axis":{"values":[0,0.2,0.4,0.6,0.8,1],"labelOverlap":false,"format":".1f","title":["Probability of recurrence-free","suvival"]}},"text":{"value":"A"}}},
{"data":{"values":[{}]},"mark":{"type":"text","align":"center","baseline":"middle","fontWeight":"bold","fontSize":12},"encoding":{"x":{"datum":80,"axis":{"values":[0,20,40,60,80,100,120,140,160],"labelOverlap":false,"title":"Follow-up time (months)"}},"y":{"datum":1.11,"axis":{"values":[0,0.2,0.4,0.6,0.8,1],"labelOverlap":false,"format":".1f","title":["Probability of recurrence-free","suvival"]}},"text":{"value":"ALBI"}}},
{"data":{"values":[{}]},"mark":{"type":"text","align":"center","baseline":"middle","fontSize":10},"encoding":{"x":{"datum":100,"axis":{"values":[0,20,40,60,80,100,120,140,160],"labelOverlap":false,"title":"Follow-up time (months)"}},"y":{"datum":0.936,"axis":{"values":[0,0.2,0.4,0.6,0.8,1],"labelOverlap":false,"format":".1f","title":["Probability of recurrence-free","suvival"]}},"text":{"value":"Log rank, p=0.064"}}}
]},
{"width":198,"height":181,"layer":[
{"data":{"name":"km"},"transform":[{"filter":"datum.p==='B'"}],"mark":{"type":"line","interpolate":"step-after","strokeWidth":1.4},
"encoding":{"x":{"field":"t","type":"quantitative","scale":{"domain":[-9,168],"nice":false,"zero":false},"axis":{"values":[0,20,40,60,80,100,120,140,160],"labelOverlap":false,"title":"Follow-up time (months)"}},
"y":{"field":"s","type":"quantitative","scale":{"domain":[-0.057,1.066],"nice":false,"zero":false},"axis":{"values":[0,0.2,0.4,0.6,0.8,1],"labelOverlap":false,"format":".1f","title":["Probability of recurrence-free","suvival"]}},
"color":{"field":"g","type":"nominal","scale":{"domain":["Grade 1","Grade 2","Grade 3","c1","c2","c3"],"range":["#3f51c6","#3cba3c","#e8262b","#8f95ee","#8ed88e","#f08a8a"]},
"legend":{"title":null,"orient":"bottom-left","offset":6,"padding":0,"rowPadding":0.5,"clipHeight":9,"labelFontSize":8,"labelColor":"#222","labelOffset":5,"symbolOffset":3,"symbolSize":49,"symbolStrokeWidth":1.5,"labelExpr":"indexof(datum.label,'Grade')>=0 ? datum.label : ''","encode":{"symbols":{"update":{"shape":{"signal":"indexof(datum.value,'Grade')>=0 ? 'M-1.7,0.7H-0.3V-0.7H1.7' : 'M-1.2,0H1.2M0,-1.2V1.2'"},"fill":{"value":"transparent"}}}}}}}},
{"data":{"name":"cens"},"transform":[{"filter":"datum.p==='B'"}],"mark":{"type":"point","shape":"M-1,0H1M0,-1V1","size":16,"strokeWidth":0.8,"filled":false,"opacity":1},
"encoding":{"x":{"field":"t","type":"quantitative","axis":{"values":[0,20,40,60,80,100,120,140,160],"labelOverlap":false,"title":"Follow-up time (months)"}},"y":{"field":"s","type":"quantitative","axis":{"values":[0,0.2,0.4,0.6,0.8,1],"labelOverlap":false,"format":".1f","title":["Probability of recurrence-free","suvival"]}},"color":{"field":"g","type":"nominal","legend":null}}},
{"data":{"values":[{}]},"mark":{"type":"text","align":"left","baseline":"middle","fontWeight":"bold","fontSize":13},"encoding":{"x":{"datum":-9,"axis":{"values":[0,20,40,60,80,100,120,140,160],"labelOverlap":false,"title":"Follow-up time (months)"}},"y":{"datum":1.11,"axis":{"values":[0,0.2,0.4,0.6,0.8,1],"labelOverlap":false,"format":".1f","title":["Probability of recurrence-free","suvival"]}},"text":{"value":"B"}}},
{"data":{"values":[{}]},"mark":{"type":"text","align":"center","baseline":"middle","fontWeight":"bold","fontSize":12},"encoding":{"x":{"datum":80,"axis":{"values":[0,20,40,60,80,100,120,140,160],"labelOverlap":false,"title":"Follow-up time (months)"}},"y":{"datum":1.11,"axis":{"values":[0,0.2,0.4,0.6,0.8,1],"labelOverlap":false,"format":".1f","title":["Probability of recurrence-free","suvival"]}},"text":{"value":"APRI"}}},
{"data":{"values":[{}]},"mark":{"type":"text","align":"center","baseline":"middle","fontWeight":"bold","fontSize":7.6,"lineHeight":8},"encoding":{"x":{"datum":101,"axis":{"values":[0,20,40,60,80,100,120,140,160],"labelOverlap":false,"title":"Follow-up time (months)"}},"y":{"datum":0.903,"axis":{"values":[0,0.2,0.4,0.6,0.8,1],"labelOverlap":false,"format":".1f","title":["Probability of recurrence-free","suvival"]}},"text":{"value":["p<0.001, Grade 1 vs Grade 2","p<0.001, Grade 1 vs Grade 3","p=0.955, Grade 2 vs Grade 3"]}}},
{"data":{"values":[{}]},"mark":{"type":"text","align":"center","baseline":"middle","fontWeight":"bold","fontSize":10.5},"encoding":{"x":{"datum":107,"axis":{"values":[0,20,40,60,80,100,120,140,160],"labelOverlap":false,"title":"Follow-up time (months)"}},"y":{"datum":0.65,"axis":{"values":[0,0.2,0.4,0.6,0.8,1],"labelOverlap":false,"format":".1f","title":["Probability of recurrence-free","suvival"]}},"text":{"value":"Log rank, p<0.001"}}}
]}
],"spacing":11,"resolve":{"scale":{"color":"independent","x":"independent","y":"independent"},"legend":{"color":"independent"}}},
{"width":192,"height":181,"layer":[
{"data":{"name":"km"},"transform":[{"filter":"datum.p==='C'"}],"mark":{"type":"line","interpolate":"step-after","strokeWidth":1.4},
"encoding":{"x":{"field":"t","type":"quantitative","scale":{"domain":[-9,168],"nice":false,"zero":false},"axis":{"values":[0,20,40,60,80,100,120,140,160],"labelOverlap":false,"title":"Follow-up time (months)"}},
"y":{"field":"s","type":"quantitative","scale":{"domain":[-0.057,1.066],"nice":false,"zero":false},"axis":{"values":[0,0.2,0.4,0.6,0.8,1],"labelOverlap":false,"format":".1f","title":["Probability of recurrence-free","suvival"]}},
"color":{"field":"g","type":"nominal","scale":{"domain":["Grade 1","Grade 2","Grade 3","c1","c2","c3"],"range":["#3f51c6","#3cba3c","#e8262b","#8f95ee","#8ed88e","#f08a8a"]},
"legend":{"title":null,"orient":"bottom-left","offset":6,"padding":0,"rowPadding":0.5,"clipHeight":9,"labelFontSize":8,"labelColor":"#222","labelOffset":5,"symbolOffset":3,"symbolSize":49,"symbolStrokeWidth":1.5,"labelExpr":"indexof(datum.label,'Grade')>=0 ? datum.label : ''","encode":{"symbols":{"update":{"shape":{"signal":"indexof(datum.value,'Grade')>=0 ? 'M-1.7,0.7H-0.3V-0.7H1.7' : 'M-1.2,0H1.2M0,-1.2V1.2'"},"fill":{"value":"transparent"}}}}}}}},
{"data":{"name":"cens"},"transform":[{"filter":"datum.p==='C'"}],"mark":{"type":"point","shape":"M-1,0H1M0,-1V1","size":16,"strokeWidth":0.8,"filled":false,"opacity":1},
"encoding":{"x":{"field":"t","type":"quantitative","axis":{"values":[0,20,40,60,80,100,120,140,160],"labelOverlap":false,"title":"Follow-up time (months)"}},"y":{"field":"s","type":"quantitative","axis":{"values":[0,0.2,0.4,0.6,0.8,1],"labelOverlap":false,"format":".1f","title":["Probability of recurrence-free","suvival"]}},"color":{"field":"g","type":"nominal","legend":null}}},
{"data":{"values":[{}]},"mark":{"type":"text","align":"left","baseline":"middle","fontWeight":"bold","fontSize":13},"encoding":{"x":{"datum":-9,"axis":{"values":[0,20,40,60,80,100,120,140,160],"labelOverlap":false,"title":"Follow-up time (months)"}},"y":{"datum":1.11,"axis":{"values":[0,0.2,0.4,0.6,0.8,1],"labelOverlap":false,"format":".1f","title":["Probability of recurrence-free","suvival"]}},"text":{"value":"C"}}},
{"data":{"values":[{}]},"mark":{"type":"text","align":"center","baseline":"middle","fontWeight":"bold","fontSize":12},"encoding":{"x":{"datum":80,"axis":{"values":[0,20,40,60,80,100,120,140,160],"labelOverlap":false,"title":"Follow-up time (months)"}},"y":{"datum":1.11,"axis":{"values":[0,0.2,0.4,0.6,0.8,1],"labelOverlap":false,"format":".1f","title":["Probability of recurrence-free","suvival"]}},"text":{"value":"CDS"}}},
{"data":{"values":[{}]},"mark":{"type":"text","align":"center","baseline":"middle","fontWeight":"bold","fontSize":7.6,"lineHeight":8},"encoding":{"x":{"datum":105,"axis":{"values":[0,20,40,60,80,100,120,140,160],"labelOverlap":false,"title":"Follow-up time (months)"}},"y":{"datum":0.92,"axis":{"values":[0,0.2,0.4,0.6,0.8,1],"labelOverlap":false,"format":".1f","title":["Probability of recurrence-free","suvival"]}},"text":{"value":["p=0.171, Grade 1 vs Grade 2","p=0.446, Grade 1 vs Grade 3","p=0.925, Grade 2 vs Grade 3"]}}},
{"data":{"values":[{}]},"mark":{"type":"text","align":"center","baseline":"middle","fontWeight":"bold","fontSize":10.5},"encoding":{"x":{"datum":104,"axis":{"values":[0,20,40,60,80,100,120,140,160],"labelOverlap":false,"title":"Follow-up time (months)"}},"y":{"datum":0.7,"axis":{"values":[0,0.2,0.4,0.6,0.8,1],"labelOverlap":false,"format":".1f","title":["Probability of recurrence-free","suvival"]}},"text":{"value":"Log rank, p=0.365"}}}
]}
],"spacing":19,"resolve":{"scale":{"color":"independent","x":"independent","y":"independent"},"legend":{"color":"independent"}}},
{"hconcat":[
{"hconcat":[
{"width":190,"height":181,"layer":[
{"data":{"name":"km"},"transform":[{"filter":"datum.p==='D'"}],"mark":{"type":"line","interpolate":"step-after","strokeWidth":1.4},
"encoding":{"x":{"field":"t","type":"quantitative","scale":{"domain":[-9,168],"nice":false,"zero":false},"axis":{"values":[0,20,40,60,80,100,120,140,160],"labelOverlap":false,"title":"Follow-up time (months)"}},
"y":{"field":"s","type":"quantitative","scale":{"domain":[-0.057,1.066],"nice":false,"zero":false},"axis":{"values":[0,0.2,0.4,0.6,0.8,1],"labelOverlap":false,"format":".1f","title":["Probability of recurrence-free","suvival"]}},
"color":{"field":"g","type":"nominal","scale":{"domain":["Grade 1","Grade 2","c1","c2"],"range":["#3f51c6","#3cba3c","#8f95ee","#8ed88e"]},
"legend":{"title":null,"orient":"bottom-left","offset":6,"padding":0,"rowPadding":0.5,"clipHeight":9,"labelFontSize":8,"labelColor":"#222","labelOffset":5,"symbolOffset":3,"symbolSize":49,"symbolStrokeWidth":1.5,"labelExpr":"indexof(datum.label,'Grade')>=0 ? datum.label : ''","encode":{"symbols":{"update":{"shape":{"signal":"indexof(datum.value,'Grade')>=0 ? 'M-1.7,0.7H-0.3V-0.7H1.7' : 'M-1.2,0H1.2M0,-1.2V1.2'"},"fill":{"value":"transparent"}}}}}}}},
{"data":{"name":"cens"},"transform":[{"filter":"datum.p==='D'"}],"mark":{"type":"point","shape":"M-1,0H1M0,-1V1","size":16,"strokeWidth":0.8,"filled":false,"opacity":1},
"encoding":{"x":{"field":"t","type":"quantitative","axis":{"values":[0,20,40,60,80,100,120,140,160],"labelOverlap":false,"title":"Follow-up time (months)"}},"y":{"field":"s","type":"quantitative","axis":{"values":[0,0.2,0.4,0.6,0.8,1],"labelOverlap":false,"format":".1f","title":["Probability of recurrence-free","suvival"]}},"color":{"field":"g","type":"nominal","legend":null}}},
{"data":{"values":[{}]},"mark":{"type":"text","align":"left","baseline":"middle","fontWeight":"bold","fontSize":13},"encoding":{"x":{"datum":-9,"axis":{"values":[0,20,40,60,80,100,120,140,160],"labelOverlap":false,"title":"Follow-up time (months)"}},"y":{"datum":1.09,"axis":{"values":[0,0.2,0.4,0.6,0.8,1],"labelOverlap":false,"format":".1f","title":["Probability of recurrence-free","suvival"]}},"text":{"value":"D"}}},
{"data":{"values":[{}]},"mark":{"type":"text","align":"center","baseline":"middle","fontWeight":"bold","fontSize":12},"encoding":{"x":{"datum":80,"axis":{"values":[0,20,40,60,80,100,120,140,160],"labelOverlap":false,"title":"Follow-up time (months)"}},"y":{"datum":1.09,"axis":{"values":[0,0.2,0.4,0.6,0.8,1],"labelOverlap":false,"format":".1f","title":["Probability of recurrence-free","suvival"]}},"text":{"value":"CTP"}}},
{"data":{"values":[{}]},"mark":{"type":"text","align":"center","baseline":"middle","fontWeight":"bold","fontSize":11},"encoding":{"x":{"datum":112,"axis":{"values":[0,20,40,60,80,100,120,140,160],"labelOverlap":false,"title":"Follow-up time (months)"}},"y":{"datum":0.87,"axis":{"values":[0,0.2,0.4,0.6,0.8,1],"labelOverlap":false,"format":".1f","title":["Probability of recurrence-free","suvival"]}},"text":{"value":"Log rank, p=0.263"}}}
]},
{"width":188,"height":181,"layer":[
{"data":{"name":"km"},"transform":[{"filter":"datum.p==='E'"}],"mark":{"type":"line","interpolate":"step-after","strokeWidth":1.4},
"encoding":{"x":{"field":"t","type":"quantitative","scale":{"domain":[-9,168],"nice":false,"zero":false},"axis":{"values":[0,20,40,60,80,100,120,140,160],"labelOverlap":false,"title":"Follow-up time (months)"}},
"y":{"field":"s","type":"quantitative","scale":{"domain":[-0.057,1.066],"nice":false,"zero":false},"axis":{"values":[0,0.2,0.4,0.6,0.8,1],"labelOverlap":false,"format":".1f","title":["Probability of recurrence-free","suvival"]}},
"color":{"field":"g","type":"nominal","scale":{"domain":["Grade 1","Grade 2","Grade 3","c1","c2","c3"],"range":["#3f51c6","#3cba3c","#e8262b","#8f95ee","#8ed88e","#f08a8a"]},
"legend":{"title":null,"orient":"bottom-left","offset":6,"padding":0,"rowPadding":0.5,"clipHeight":9,"labelFontSize":8,"labelColor":"#222","labelOffset":5,"symbolOffset":3,"symbolSize":49,"symbolStrokeWidth":1.5,"labelExpr":"indexof(datum.label,'Grade')>=0 ? datum.label : ''","encode":{"symbols":{"update":{"shape":{"signal":"indexof(datum.value,'Grade')>=0 ? 'M-1.7,0.7H-0.3V-0.7H1.7' : 'M-1.2,0H1.2M0,-1.2V1.2'"},"fill":{"value":"transparent"}}}}}}}},
{"data":{"name":"cens"},"transform":[{"filter":"datum.p==='E'"}],"mark":{"type":"point","shape":"M-1,0H1M0,-1V1","size":16,"strokeWidth":0.8,"filled":false,"opacity":1},
"encoding":{"x":{"field":"t","type":"quantitative","axis":{"values":[0,20,40,60,80,100,120,140,160],"labelOverlap":false,"title":"Follow-up time (months)"}},"y":{"field":"s","type":"quantitative","axis":{"values":[0,0.2,0.4,0.6,0.8,1],"labelOverlap":false,"format":".1f","title":["Probability of recurrence-free","suvival"]}},"color":{"field":"g","type":"nominal","legend":null}}},
{"data":{"values":[{}]},"mark":{"type":"text","align":"left","baseline":"middle","fontWeight":"bold","fontSize":13},"encoding":{"x":{"datum":-9,"axis":{"values":[0,20,40,60,80,100,120,140,160],"labelOverlap":false,"title":"Follow-up time (months)"}},"y":{"datum":1.09,"axis":{"values":[0,0.2,0.4,0.6,0.8,1],"labelOverlap":false,"format":".1f","title":["Probability of recurrence-free","suvival"]}},"text":{"value":"E"}}},
{"data":{"values":[{}]},"mark":{"type":"text","align":"center","baseline":"middle","fontWeight":"bold","fontSize":12},"encoding":{"x":{"datum":80,"axis":{"values":[0,20,40,60,80,100,120,140,160],"labelOverlap":false,"title":"Follow-up time (months)"}},"y":{"datum":1.09,"axis":{"values":[0,0.2,0.4,0.6,0.8,1],"labelOverlap":false,"format":".1f","title":["Probability of recurrence-free","suvival"]}},"text":{"value":"FIB-4"}}},
{"data":{"values":[{}]},"mark":{"type":"text","align":"center","baseline":"middle","fontSize":9,"lineHeight":9},"encoding":{"x":{"datum":106,"axis":{"values":[0,20,40,60,80,100,120,140,160],"labelOverlap":false,"title":"Follow-up time (months)"}},"y":{"datum":0.9,"axis":{"values":[0,0.2,0.4,0.6,0.8,1],"labelOverlap":false,"format":".1f","title":["Probability of recurrence-free","suvival"]}},"text":{"value":["p=0.088, Grade 1 vs Grade 2","p<0.001, Grade 1 vs Grade 3","p=0.047, Grade 2 vs Grade 3"]}}},
{"data":{"values":[{}]},"mark":{"type":"text","align":"center","baseline":"middle","fontWeight":"bold","fontSize":10.5},"encoding":{"x":{"datum":103,"axis":{"values":[0,20,40,60,80,100,120,140,160],"labelOverlap":false,"title":"Follow-up time (months)"}},"y":{"datum":0.688,"axis":{"values":[0,0.2,0.4,0.6,0.8,1],"labelOverlap":false,"format":".1f","title":["Probability of recurrence-free","suvival"]}},"text":{"value":"p=0.003"}}}
]}
],"spacing":21,"resolve":{"scale":{"color":"independent","x":"independent","y":"independent"},"legend":{"color":"independent"}}},
{"width":188,"height":181,"layer":[
{"data":{"name":"km"},"transform":[{"filter":"datum.p==='F'"}],"mark":{"type":"line","interpolate":"step-after","strokeWidth":1.4},
"encoding":{"x":{"field":"t","type":"quantitative","scale":{"domain":[-9,168],"nice":false,"zero":false},"axis":{"values":[0,20,40,60,80,100,120,140,160],"labelOverlap":false,"title":"Follow-up time (months)","titleFontSize":11}},
"y":{"field":"s","type":"quantitative","scale":{"domain":[-0.057,1.066],"nice":false,"zero":false},"axis":{"values":[0,0.2,0.4,0.6,0.8,1],"labelOverlap":false,"format":".1f","title":["Probability of recurrence-free","suvival"],"titlePadding":-2}},
"color":{"field":"g","type":"nominal","scale":{"domain":["Grade 1","Grade 2","Grade 3","c1","c2","c3"],"range":["#3f51c6","#3cba3c","#e8262b","#8f95ee","#8ed88e","#f08a8a"]},
"legend":{"title":null,"orient":"bottom-left","offset":6,"padding":0,"rowPadding":0.5,"clipHeight":9,"labelFontSize":8,"labelColor":"#222","labelOffset":5,"symbolOffset":3,"symbolSize":49,"symbolStrokeWidth":1.5,"labelExpr":"indexof(datum.label,'Grade')>=0 ? datum.label : ''","encode":{"symbols":{"update":{"shape":{"signal":"indexof(datum.value,'Grade')>=0 ? 'M-1.7,0.7H-0.3V-0.7H1.7' : 'M-1.2,0H1.2M0,-1.2V1.2'"},"fill":{"value":"transparent"}}}}}}}},
{"data":{"name":"cens"},"transform":[{"filter":"datum.p==='F'"}],"mark":{"type":"point","shape":"M-1,0H1M0,-1V1","size":16,"strokeWidth":0.8,"filled":false,"opacity":1},
"encoding":{"x":{"field":"t","type":"quantitative","axis":{"values":[0,20,40,60,80,100,120,140,160],"labelOverlap":false,"title":"Follow-up time (months)","titleFontSize":11}},"y":{"field":"s","type":"quantitative","axis":{"values":[0,0.2,0.4,0.6,0.8,1],"labelOverlap":false,"format":".1f","title":["Probability of recurrence-free","suvival"],"titlePadding":-2}},"color":{"field":"g","type":"nominal","legend":null}}},
{"data":{"values":[{}]},"mark":{"type":"text","align":"left","baseline":"middle","fontWeight":"bold","fontSize":13},"encoding":{"x":{"datum":-9,"axis":{"values":[0,20,40,60,80,100,120,140,160],"labelOverlap":false,"title":"Follow-up time (months)","titleFontSize":11}},"y":{"datum":1.09,"axis":{"values":[0,0.2,0.4,0.6,0.8,1],"labelOverlap":false,"format":".1f","title":["Probability of recurrence-free","suvival"],"titlePadding":-2}},"text":{"value":"F"}}},
{"data":{"values":[{}]},"mark":{"type":"text","align":"center","baseline":"middle","fontWeight":"bold","fontSize":12},"encoding":{"x":{"datum":80,"axis":{"values":[0,20,40,60,80,100,120,140,160],"labelOverlap":false,"title":"Follow-up time (months)","titleFontSize":11}},"y":{"datum":1.09,"axis":{"values":[0,0.2,0.4,0.6,0.8,1],"labelOverlap":false,"format":".1f","title":["Probability of recurrence-free","suvival"],"titlePadding":-2}},"text":{"value":"GUCI"}}},
{"data":{"values":[{}]},"mark":{"type":"text","align":"center","baseline":"middle","fontSize":9,"lineHeight":9},"encoding":{"x":{"datum":106,"axis":{"values":[0,20,40,60,80,100,120,140,160],"labelOverlap":false,"title":"Follow-up time (months)","titleFontSize":11}},"y":{"datum":0.89,"axis":{"values":[0,0.2,0.4,0.6,0.8,1],"labelOverlap":false,"format":".1f","title":["Probability of recurrence-free","suvival"],"titlePadding":-2}},"text":{"value":["p<0.001, Grade 1 vs Grade 2","p=0.001, Grade 1 vs Grade 3","p=0.984, Grade 2 vs Grade 3"]}}},
{"data":{"values":[{}]},"mark":{"type":"text","align":"center","baseline":"middle","fontWeight":"bold","fontSize":10.5},"encoding":{"x":{"datum":110,"axis":{"values":[0,20,40,60,80,100,120,140,160],"labelOverlap":false,"title":"Follow-up time (months)","titleFontSize":11}},"y":{"datum":0.706,"axis":{"values":[0,0.2,0.4,0.6,0.8,1],"labelOverlap":false,"format":".1f","title":["Probability of recurrence-free","suvival"],"titlePadding":-2}},"text":{"value":"Log rank, p<0.001"}}}
]}
],"spacing":43,"resolve":{"scale":{"color":"independent","x":"independent","y":"independent"},"legend":{"color":"independent"}}}
]
}
